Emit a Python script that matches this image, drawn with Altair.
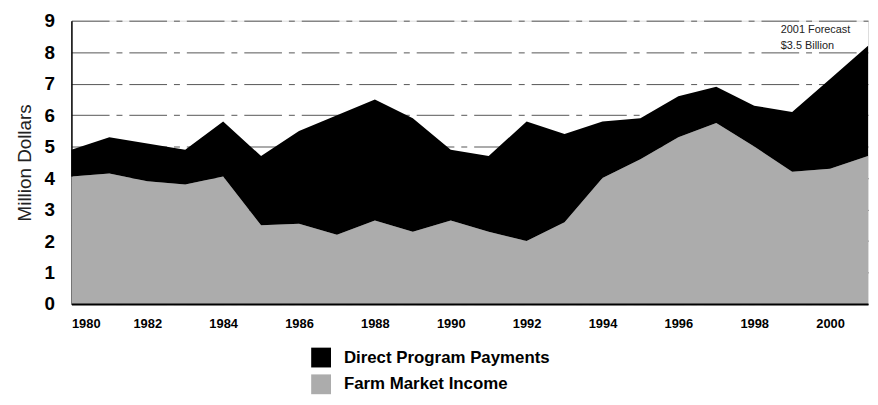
import altair as alt
import pandas as pd

years = list(range(1980, 2002))
market_income = [4.05, 4.15, 3.9, 3.8, 4.05, 2.5, 2.55, 2.2, 2.65, 2.3, 2.65,
                 2.3, 2.0, 2.6, 4.0, 4.6, 5.3, 5.75, 5.0, 4.2, 4.3, 4.7]
direct_payments = [0.85, 1.15, 1.2, 1.1, 1.75, 2.2, 2.95, 3.8, 3.85, 3.6, 2.25,
                   2.4, 3.8, 2.8, 1.8, 1.3, 1.3, 1.15, 1.3, 1.9, 2.85, 3.5]
series_names = ["Direct Program Payments", "Farm Market Income"]
series_colors = ["#000000", "#acacac"]
x_ticks = list(range(1980, 2001, 2))
y_ticks = list(range(0, 10))
note_lines = ["2001 Forecast", "$3.5 Billion"]

rows = []
for yr, m, p in zip(years, market_income, direct_payments):
    rows.append({"year": yr, "series": "Farm Market Income", "value": m, "ord": 0})
    rows.append({"year": yr, "series": "Direct Program Payments", "value": p, "ord": 1})
df = pd.DataFrame(rows)

FONT = "Liberation Sans"
xscale = alt.Scale(domain=[1980, 2001], nice=False, zero=False)
yscale = alt.Scale(domain=[0, 9], nice=False)

xaxis = alt.Axis(values=x_ticks, format="d", title=None, ticks=False,
                 labelFont=FONT, labelFontSize=13, labelFontWeight="bold",
                 labelColor="#000", labelPadding=14, domainColor="#000",
                 domainWidth=2, grid=False, zindex=1)
yaxis = alt.Axis(values=y_ticks, title="Million Dollars", ticks=False,
                 labelFont=FONT, labelFontSize=19, labelFontWeight="bold",
                 labelColor="#000", labelPadding=17, labelOverlap=False,
                 titleFont=FONT, titleFontSize=19, titleFontWeight="normal",
                 titleColor="#222", titlePadding=10,
                 domainColor="#000", domainWidth=1.5,
                 grid=True, gridColor="#555", gridWidth=1,
                 gridDash=[38, 7, 6, 7])

area = alt.Chart(df).mark_area(interpolate="linear").encode(
    x=alt.X("year:Q", scale=xscale, axis=xaxis),
    y=alt.Y("value:Q", stack="zero", scale=yscale, axis=yaxis),
    color=alt.Color("series:N",
                    scale=alt.Scale(domain=series_names, range=series_colors),
                    legend=alt.Legend(title=None, orient="none", legendX=242, legendY=330,
                                      symbolType="square", symbolSize=400,
                                      symbolStrokeWidth=0, labelFont=FONT,
                                      labelFontSize=17, labelFontWeight="bold",
                                      labelColor="#000", labelOffset=13,
                                      labelLimit=400, rowPadding=7, padding=0)),
    order=alt.Order("ord:Q"),
)

note_df = pd.DataFrame({"year": [1998.7, 1998.7], "value": [8.7, 8.2], "t": note_lines})
note = alt.Chart(note_df).mark_text(align="left", baseline="middle", font=FONT,
                                    fontSize=11, color="#222").encode(
    x=alt.X("year:Q", scale=xscale, axis=xaxis),
    y=alt.Y("value:Q", scale=yscale, axis=yaxis),
    text="t:N")

chart = alt.layer(area, note).properties(
    width=804, height=286,
    autosize=alt.AutoSizeParams(type="none"),
    padding={"left": 64, "top": 11, "right": 2, "bottom": 90},
).configure_view(stroke=None).configure(background="white")

chart.save("out.html", embed_options={"renderer": "svg", "actions": False})
